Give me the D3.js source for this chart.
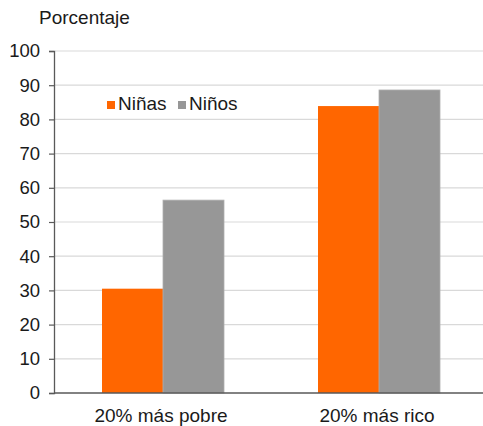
<!DOCTYPE html>
<html>
<head>
<meta charset="utf-8">
<script src="https://cdn.jsdelivr.net/npm/d3@7"></script>
<style>
  body { margin: 0; background: #fff; }
  svg { display: block; font-family: "Liberation Sans", Arial, sans-serif; }
</style>
</head>
<body>
<svg id="chart" width="483" height="426"></svg>
<script>
// Share of children by wealth quintile, girls vs boys (percent)
const categories = ["20% más pobre", "20% más rico"];
const seriesNames = ["Niñas", "Niños"];
const ninas = [30.5, 83.9];
const ninos = [56.4, 88.6];
const yTicks = [0, 10, 20, 30, 40, 50, 60, 70, 80, 90, 100];
const colors = ["#FF6600", "#979797"];

const svg = d3.select("#chart");
const W = 483;
const textColor = "#1a1a1a";
const fontSize = 19;

const y = d3.scaleLinear().domain([0, 100]).range([393, 51]);
const x0 = d3.scaleBand().domain(categories).range([55, 487]);
const x1 = d3.scaleBand().domain(seriesNames).range([0, 122]);

// Gridlines
svg.append("g")
  .selectAll("line")
  .data(yTicks.filter(d => d > 0))
  .join("line")
  .attr("x1", 55).attr("x2", W)
  .attr("y1", d => y(d)).attr("y2", d => y(d))
  .attr("stroke", "#d9d9d9").attr("stroke-width", 1.2);

// Bars
const rows = categories.map((c, i) => ({ cat: c, vals: [ninas[i], ninos[i]] }));
const groups = svg.append("g")
  .selectAll("g")
  .data(rows)
  .join("g")
  .attr("transform", d => `translate(${x0(d.cat) + (x0.bandwidth() - 122) / 2},0)`);

groups.selectAll("rect")
  .data(d => d.vals.map((v, j) => ({ name: seriesNames[j], v, j })))
  .join("rect")
  .attr("x", d => x1(d.name))
  .attr("width", x1.bandwidth())
  .attr("y", d => y(d.v))
  .attr("height", d => y(0) - y(d.v))
  .attr("fill", d => colors[d.j])
  .attr("stroke", d => d.j === 1 ? "#b0b0b0" : "none")
  .attr("stroke-width", 0.8);

// Y axis
const yAxis = d3.axisLeft(y).tickValues(yTicks).tickSize(5).tickPadding(9);
const gy = svg.append("g").attr("transform", "translate(54,0)").call(yAxis);
gy.select(".domain").attr("stroke", "#595959").attr("stroke-width", 1.3);
gy.selectAll(".tick line").attr("stroke", "#595959").attr("stroke-width", 1.2);
gy.selectAll(".tick text")
  .attr("font-size", 18.5).attr("fill", textColor)
  .attr("font-family", '"Liberation Sans", Arial, sans-serif');

// Baseline
svg.append("line")
  .attr("x1", 54).attr("x2", W)
  .attr("y1", y(0)).attr("y2", y(0))
  .attr("stroke", "#595959").attr("stroke-width", 1.5);

// Category labels
svg.append("g")
  .selectAll("text")
  .data(categories)
  .join("text")
  .attr("x", d => x0(d) + x0.bandwidth() / 2 - 2)
  .attr("y", 422)
  .attr("text-anchor", "middle")
  .attr("font-size", fontSize)
  .attr("fill", textColor)
  .text(d => d);

// Axis title
svg.append("text")
  .attr("x", 39).attr("y", 24)
  .attr("font-size", fontSize).attr("fill", textColor)
  .text("Porcentaje");

// Legend
const legendX = [107, 178];
const lg = svg.append("g")
  .selectAll("g")
  .data(seriesNames)
  .join("g")
  .attr("transform", (d, i) => `translate(${legendX[i]},101)`);
lg.append("rect").attr("x", 0).attr("y", 0).attr("width", 8).attr("height", 8)
  .attr("fill", (d, i) => colors[i]);
lg.append("text").attr("x", 11).attr("y", 8.5)
  .attr("font-size", fontSize).attr("fill", textColor)
  .text(d => d);
</script>
</body>
</html>
